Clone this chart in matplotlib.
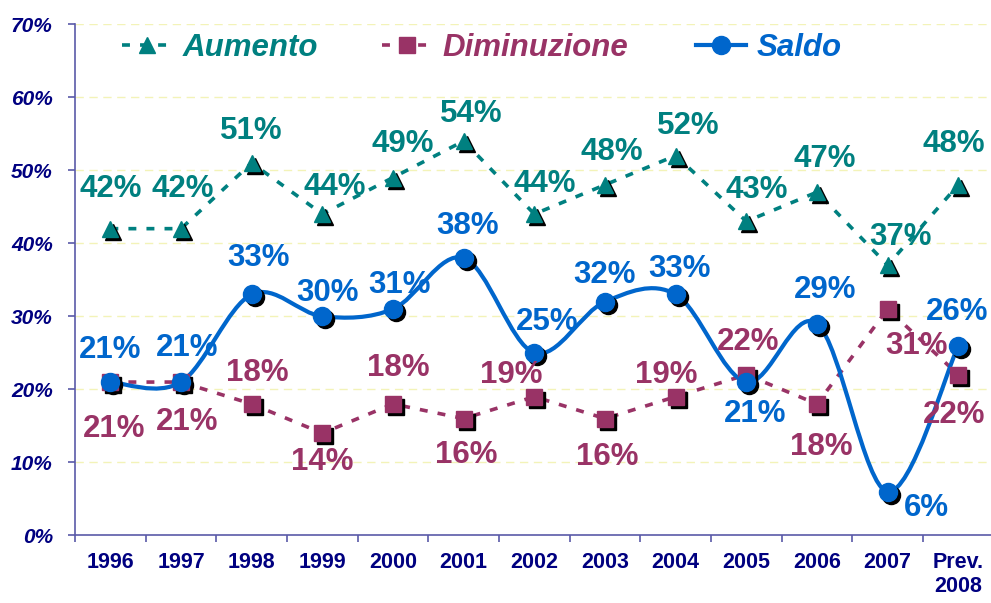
import matplotlib
matplotlib.use('Agg')
import matplotlib.pyplot as plt
import numpy as np
from matplotlib.path import Path
from matplotlib.patches import PathPatch
from matplotlib.lines import Line2D
from matplotlib.transforms import offset_copy

plt.rcParams.update({
    'font.family': ['Liberation Sans', 'DejaVu Sans'],
    'font.weight': 'bold',
})

years = ['1996', '1997', '1998', '1999', '2000', '2001', '2002',
         '2003', '2004', '2005', '2006', '2007', 'Prev.\n2008']
aumento = [42, 42, 51, 44, 49, 54, 44, 48, 52, 43, 47, 37, 48]
diminuzione = [21, 21, 18, 14, 18, 16, 19, 16, 19, 22, 18, 31, 22]
saldo = [21, 21, 33, 30, 31, 38, 25, 32, 33, 21, 29, 6, 26]

# label offsets (pixels) from each point
off_aum = [(0, 40), (2, 40), (0, 32), (12, 27), (10, 34), (8, 27), (10, 30),
           (7, 33), (13, 30), (10, 31), (8, 33), (13, 28), (-5, 41)]
off_dim = [(4, -47), (6, -40), (6, 31), (0, -29), (5, 36), (3, -36), (-23, 22),
           (2, -38), (-9, 22), (2, 33), (4, -43), (29, -37), (-4, -40)]
off_sal = [(0, 32), (6, 34), (7, 36), (5, 23), (7, 24), (4, 32), (13, 31),
           (0, 27), (4, 25), (9, -32), (8, 34), (39, -16), (-1, 34)]

C_AUM = '#008080'
C_DIM = '#993366'
C_SAL = '#0066CC'
NAVY = '#000080'
AXC = '#5A5AA8'

fig = plt.figure(figsize=(9.91, 6.03), dpi=100)
ax = fig.add_axes([0.0757, 0.112, 0.927, 0.848])
x = np.arange(len(years))

shadow = offset_copy(ax.transData, fig=fig, x=3, y=-3, units='dots')

# dashed series
ax.plot(x, aumento, color=C_AUM, lw=2.6, ls=(0, (2.2, 2.8)), zorder=2)
ax.plot(x, diminuzione, color=C_DIM, lw=2.6, ls=(0, (2.2, 2.8)), zorder=2)

# smoothed Saldo line (Bezier through the points, Excel-style smoothing)
pts = np.column_stack([x, saldo]).astype(float)
ext = np.vstack([pts[0], pts, pts[-1]])
verts = [pts[0]]
codes = [Path.MOVETO]
for i in range(len(pts) - 1):
    c1 = pts[i] + (ext[i + 2] - ext[i]) / 6
    c2 = pts[i + 1] - (ext[i + 3] - ext[i + 1]) / 6
    verts += [c1, c2, pts[i + 1]]
    codes += [Path.CURVE4] * 3
ax.add_patch(PathPatch(Path(verts, codes), facecolor='none', edgecolor=C_SAL,
                       lw=3, zorder=3))

# markers with black shadows
for vals, mk, ms, col in [(aumento, '^', 11, C_AUM), (diminuzione, 's', 11, C_DIM),
                          (saldo, 'o', 13, C_SAL)]:
    ax.plot(x, vals, ls='none', marker=mk, ms=ms, color='black', mec='black',
            transform=shadow, zorder=4)
    ax.plot(x, vals, ls='none', marker=mk, ms=ms, color=col, mec=col, zorder=5)

# data labels
for vals, offs, col in [(aumento, off_aum, C_AUM), (diminuzione, off_dim, C_DIM),
                        (saldo, off_sal, C_SAL)]:
    for xi, v, o in zip(x, vals, offs):
        ax.annotate(f'{v}%', (xi, v), xytext=o, textcoords='offset pixels',
                    ha='center', va='center', fontsize=22.5, fontweight='bold',
                    color=col, zorder=6)

ax.set_xlim(-0.5, len(years) - 0.5)
ax.set_ylim(0, 70)
ax.set_yticks(range(0, 71, 10))
ax.set_yticklabels([f'{v}%' for v in range(0, 71, 10)], fontsize=15,
                   fontstyle='italic', fontweight='bold', color=NAVY)
ax.set_xticks(x)
ax.set_xticklabels(years, fontsize=15.5, fontweight='bold', color=NAVY)
ax.set_xticks(np.arange(-0.5, len(years), 1), minor=True)
ax.tick_params(axis='x', which='major', length=0, pad=12)
ax.tick_params(axis='x', which='minor', length=5, color=AXC, width=1.2)
ax.tick_params(axis='y', length=5, color=AXC, width=1.2, pad=11)

for s in ['top', 'right']:
    ax.spines[s].set_visible(False)
for s in ['left', 'bottom']:
    ax.spines[s].set_color(AXC)
    ax.spines[s].set_linewidth(1.2)

for v in range(10, 71, 10):
    ax.axhline(v, color='#F3F3B8', lw=1, ls=(0, (6, 4)), zorder=0)

# legend: one entry each, placed like the original
handles = [
    Line2D([], [], color=C_AUM, lw=2.6, ls=(0, (2.2, 2.8)), marker='^', ms=11),
    Line2D([], [], color=C_DIM, lw=2.6, ls=(0, (2.2, 2.8)), marker='s', ms=11),
    Line2D([], [], color=C_SAL, lw=3, marker='o', ms=13),
]
names = ['Aumento', 'Diminuzione', 'Saldo']
anchors = [0.0949, 0.357, 0.674]
for h, n, c, a in zip(handles, names, [C_AUM, C_DIM, C_SAL], anchors):
    leg = fig.legend([h], [n], loc='center left', bbox_to_anchor=(a, 0.92),
                     frameon=False, handlelength=1.6, handletextpad=0.35,
                     prop={'size': 22.5, 'weight': 'bold', 'style': 'italic'})
    leg.get_texts()[0].set_color(c)

fig.savefig('out.png', dpi=100)
